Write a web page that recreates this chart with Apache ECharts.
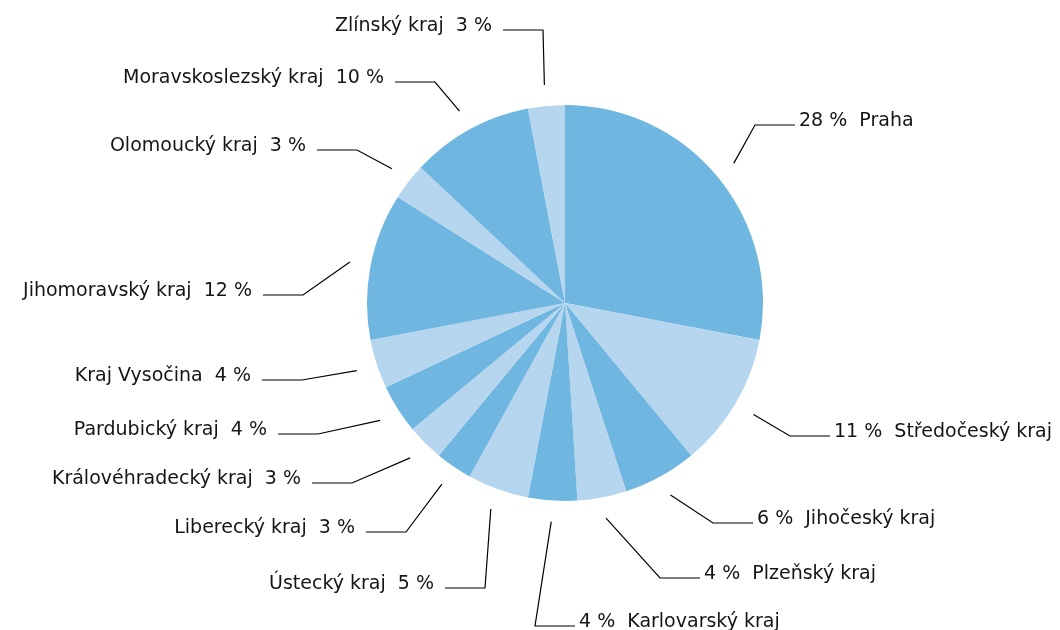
<!DOCTYPE html>
<html>
<head>
    <meta charset="utf-8">
    <title>Kraje</title>
    <script src="https://cdn.jsdelivr.net/npm/echarts@6/dist/echarts.min.js"></script>
    <style>
        html, body { margin: 0; padding: 0; background: #fff; }
        #main { width: 1060px; height: 630px; }
    </style>
</head>
<body>
<div id="main"></div>
<script>
    // podíly krajů v %, po směru hodin od Prahy
    var regions = ['Praha', 'Středočeský kraj', 'Jihočeský kraj', 'Plzeňský kraj', 'Karlovarský kraj',
        'Ústecký kraj', 'Liberecký kraj', 'Královéhradecký kraj', 'Pardubický kraj', 'Kraj Vysočina',
        'Jihomoravský kraj', 'Olomoucký kraj', 'Moravskoslezský kraj', 'Zlínský kraj'];
    var shares = [28, 11, 6, 4, 4, 5, 3, 3, 4, 4, 12, 3, 10, 3];

    // label placement (hand placed in the original): side + elbow of the leader line
    var rightSide = [true, true, true, true, true, false, false, false, false, false, false, false, false, false];
    var elbows = [[755, 125], [790, 436], [713, 523], [660, 578], [535, 626], [485, 588], [406, 532],
        [352, 483], [318, 434], [302, 380], [303, 295], [357, 150], [435, 82], [543, 30]];

    var dark = '#6fb6e0', light = '#b5d6ee';

    var pieData = regions.map(function (name, i) {
        return { name: name, value: shares[i], itemStyle: { color: i % 2 ? light : dark } };
    });

    var myChart = echarts.init(document.getElementById('main'));

    var option = {
        animation: false,
        textStyle: { fontFamily: 'DejaVu Sans' },
        series: [{
            type: 'pie',
            center: [565, 303],
            radius: 198,
            startAngle: 90,
            silent: true,
            label: { show: false },
            labelLine: { show: false },
            data: pieData
        }, {
            // invisible ring just for labels, so the leader lines start off the pie
            type: 'pie',
            center: [565, 303],
            radius: 219,
            startAngle: 90,
            silent: true,
            itemStyle: { color: 'rgba(0,0,0,0)' },
            label: {
                show: true,
                color: '#151515',
                fontSize: 19,
                formatter: function (p) {
                    return rightSide[p.dataIndex] ? p.value + ' %  ' + p.name : p.name + '  ' + p.value + ' %';
                }
            },
            labelLine: {
                show: true,
                length: 30,
                length2: 40,
                lineStyle: { color: '#000', width: 1.2 }
            },
            labelLayout: function (params) {
                var i = params.dataIndex;
                var right = rightSide[i];
                var elbow = elbows[i];
                var endX = elbow[0] + (right ? 40 : -40);
                var start = params.labelLinePoints ? params.labelLinePoints[0] : elbow;
                return {
                    x: endX + (right ? 4 : -11),
                    y: elbow[1] - 4,
                    align: right ? 'left' : 'right',
                    verticalAlign: 'middle',
                    labelLinePoints: [start, elbow, [endX, elbow[1]]]
                };
            },
            data: regions.map(function (name, i) { return { name: name, value: shares[i] }; })
        }]
    };

    myChart.setOption(option);
</script>
</body>
</html>
